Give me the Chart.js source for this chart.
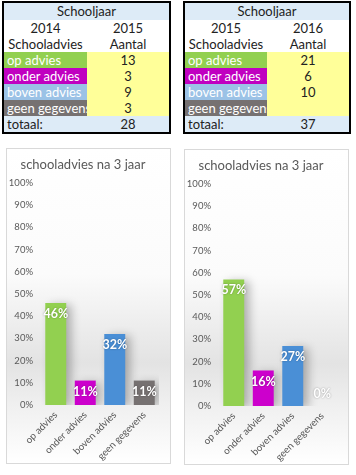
<!DOCTYPE html>
<html>
<head>
<meta charset="utf-8">
<script src="https://cdn.jsdelivr.net/npm/chart.js@4.4.1/dist/chart.umd.min.js"></script>
<style>
  html,body{margin:0;padding:0;background:#fff;width:356px;height:475px;overflow:hidden;}
  .tbl{position:absolute;height:133px;border:2px solid #000;box-sizing:border-box;font-family:Lato,"Liberation Sans",sans-serif;font-size:13px;color:#222;background:#fff;}
  .row{display:flex;height:16px;line-height:16px;}
  .row.h{height:17px;line-height:17px;background:#ddebf7;justify-content:center;}
  .row.t{background:#ddebf7;height:16px;}
  .lab{overflow:hidden;white-space:nowrap;padding-left:3px;box-sizing:border-box;color:#fff;}
  .c1{text-align:center;}
  .c2{flex:1;text-align:center;}
  .val{flex:1;text-align:center;background:#ffff99;}
  .box{position:absolute;border:1px solid #d9d9d9;box-sizing:border-box;}
  .box canvas{display:block;}
</style>
</head>
<body>
<div class="tbl" id="t1" style="left:2px;top:1px;width:169px;"></div>
<div class="tbl" id="t2" style="left:183px;top:1px;width:168px;"></div>
<div class="box" style="left:6px;top:148px;width:165px;height:316px;"><div style="width:163px;height:314px;position:relative"><canvas id="c1"></canvas></div></div>
<div class="box" style="left:184px;top:149px;width:165px;height:316px;"><div style="width:163px;height:314px;position:relative"><canvas id="c2"></canvas></div></div>
<script>
// ---- data ----
const categories = ['op advies', 'onder advies', 'boven advies', 'geen gegevens'];
const years1 = ['2014', '2015'];
const years2 = ['2015', '2016'];
const counts1 = [13, 3, 9, 3];
const counts2 = [21, 6, 10, null];
const total1 = 28;
const total2 = 37;
const pct1 = [46, 11, 32, 11];
const pct2 = [57, 16, 27, 0];
const chartTitle = 'schooladvies na 3 jaar';
const yTickValues = [0, 10, 20, 30, 40, 50, 60, 70, 80, 90, 100];

const labelBg = ['#92d050', '#c000c0', '#9bc2e6', '#767171'];
const barColors = ['#92d050', '#cc00cc', '#4a8fd6', '#767171'];

function buildTable(id, years, counts, total, labW) {
  const t = document.getElementById(id);
  let h = '<div class="row h">Schooljaar</div>';
  h += '<div class="row"><div class="c1" style="width:' + labW + 'px">' + years[0] + '</div><div class="c2">' + years[1] + '</div></div>';
  h += '<div class="row"><div class="c1" style="width:' + labW + 'px">Schooladvies</div><div class="c2">Aantal</div></div>';
  categories.forEach((c, i) => {
    h += '<div class="row"><div class="lab" style="width:' + labW + 'px;background:' + labelBg[i] + '">' + c + '</div><div class="val">' + (counts[i] == null ? '' : counts[i]) + '</div></div>';
  });
  h += '<div class="row t"><div class="lab" style="width:' + labW + 'px;color:#222">totaal:</div><div class="c2">' + total + '</div></div>';
  t.innerHTML = h;
}
buildTable('t1', years1, counts1, total1, 83);
buildTable('t2', years2, counts2, total2, 82);

const bgPlugin = {
  id: 'bg',
  beforeDraw(chart) {
    const ctx = chart.ctx, h = chart.height, w = chart.width;
    const g = ctx.createLinearGradient(0, 0, 0, h);
    g.addColorStop(0, '#ffffff');
    g.addColorStop(0.4, '#fbfbfb');
    g.addColorStop(0.68, '#e3e3e3');
    g.addColorStop(0.82, '#f0f0f0');
    g.addColorStop(1, '#ffffff');
    ctx.save();
    ctx.fillStyle = g;
    ctx.fillRect(0, 0, w, h);
    ctx.restore();
  },
  beforeDatasetsDraw(chart) {
    const ctx = chart.ctx;
    ctx.save();
    ctx.shadowColor = 'rgba(0,0,0,0.28)';
    ctx.shadowBlur = 10;
    ctx.shadowOffsetX = 5;
    ctx.shadowOffsetY = 2;
  },
  afterDatasetsDraw(chart) {
    const ctx = chart.ctx;
    ctx.restore();
    const meta = chart.getDatasetMeta(0);
    const data = chart.data.datasets[0].data;
    ctx.save();
    ctx.font = 'bold 12.5px Lato, "Liberation Sans", sans-serif';
    ctx.fillStyle = '#ffffff';
    ctx.textAlign = 'center';
    ctx.textBaseline = 'middle';
    ctx.shadowColor = 'rgba(0,0,0,0.35)';
    ctx.shadowBlur = 2;
    meta.data.forEach((bar, i) => {
      const v = data[i];
      const y = v > 0 ? bar.y + 11 : bar.base - 12;
      ctx.fillText(Math.round(v) + '%', bar.x, y);
    });
    ctx.restore();
  }
};

function makeChart(id, values) {
  return new Chart(document.getElementById(id), {
    type: 'bar',
    data: {
      labels: categories,
      datasets: [{
        data: values,
        backgroundColor: barColors,
        borderWidth: 0,
        categoryPercentage: 1,
        barPercentage: 0.71
      }]
    },
    options: {
      responsive: true,
      maintainAspectRatio: false,
      animation: false,
      devicePixelRatio: 1,
      layout: { padding: { top: 0, right: 11, bottom: 0, left: 0 } },
      plugins: {
        legend: { display: false },
        tooltip: { enabled: false },
        title: {
          display: true,
          text: chartTitle,
          color: '#595959',
          font: { family: 'Lato, "Liberation Sans", sans-serif', size: 13, weight: 'normal' },
          padding: { top: 8, bottom: 10.4 }
        }
      },
      scales: {
        x: {
          grid: { display: false, drawTicks: false },
          border: { display: false },
          ticks: {
            color: '#595959',
            font: { family: 'Lato, "Liberation Sans", sans-serif', size: 9.8 },
            minRotation: 45,
            maxRotation: 45,
            padding: 4,
            autoSkip: false
          },
          afterFit(s) { s.height = 58; }
        },
        y: {
          min: 0,
          max: 100,
          grid: { display: false, drawTicks: false },
          border: { display: false },
          afterBuildTicks(s) { s.ticks = yTickValues.map(v => ({ value: v })); },
          ticks: {
            color: '#595959',
            font: { family: 'Lato, "Liberation Sans", sans-serif', size: 9.5 },
            padding: 8,
            callback: v => v + '%'
          },
          afterFit(s) { s.width = 34; }
        }
      }
    },
    plugins: [bgPlugin]
  });
}
makeChart('c1', pct1);
makeChart('c2', pct2);
</script>
</body>
</html>
